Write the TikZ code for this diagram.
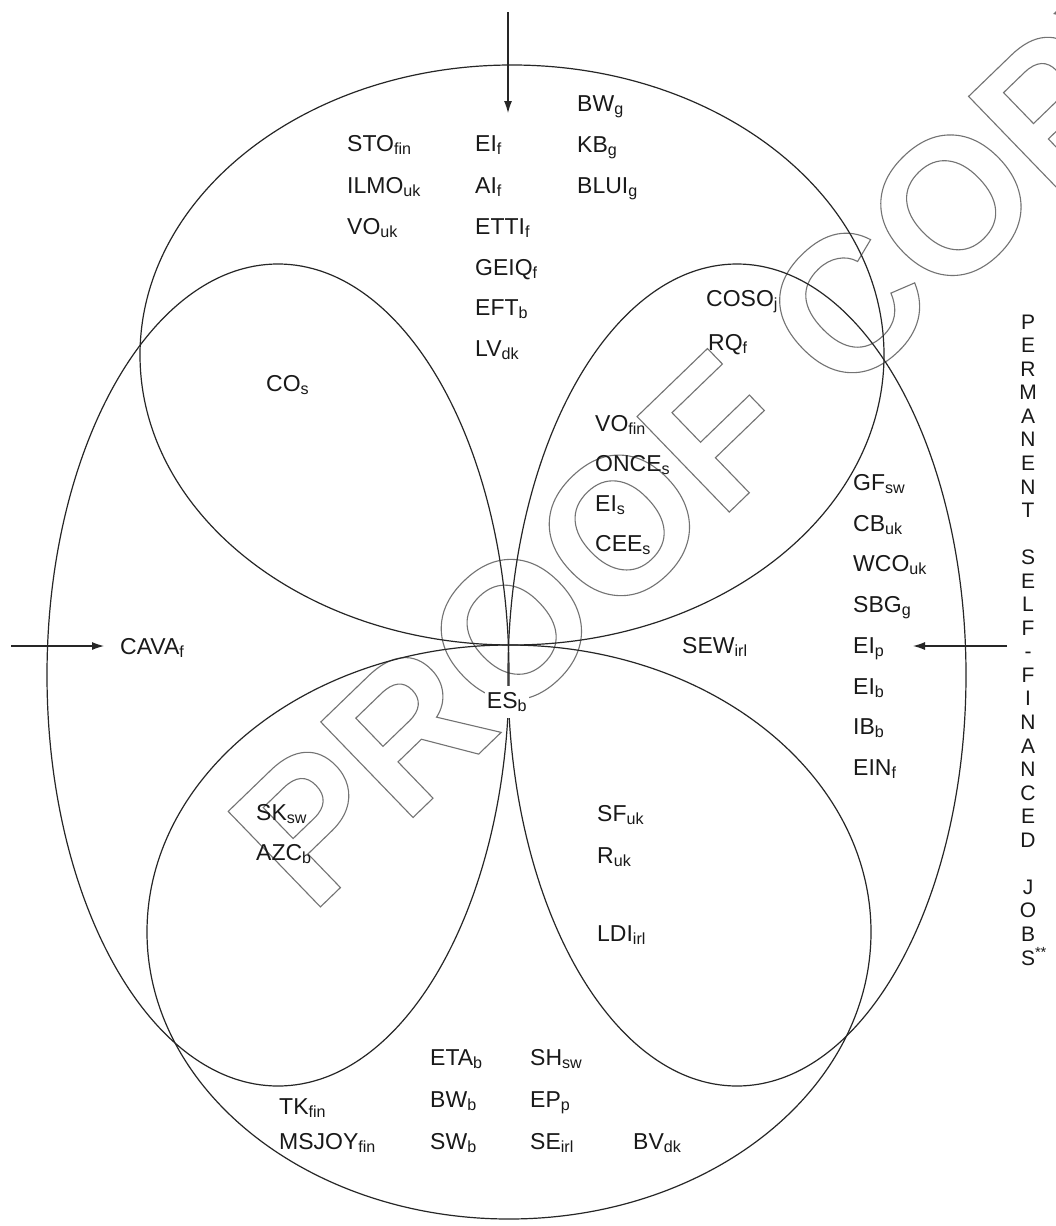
\documentclass[tikz,border=0pt]{standalone}
\usepackage{fontspec}
\setmainfont{Liberation Sans}
\usetikzlibrary{arrows.meta}
\newcommand\lbsub[2]{#1\textsubscript{#2}}
\newcommand\outlinetxt[1]{\special{pdf:literal direct 1 Tr 1.1 w}#1\special{pdf:literal direct 0 Tr}}
\tikzset{
  lab/.style={anchor=base west, inner sep=0pt, text=black!90, font=\fontsize{23}{27}\selectfont},
  ell/.style={line width=1.2pt, draw=black!85},
  arr/.style={line width=1.1pt, draw=black!85, -{Latex[length=12pt,width=8pt]}},
  wm/.style={anchor=base west, inner sep=0pt, text=black!55, font=\fontsize{193}{193}\selectfont\bfseries},
}
\begin{document}
\begin{tikzpicture}[x=1pt,y=-1pt]
\useasboundingbox (0,0) rectangle (1056,1226);
\fill[white] (0,0) rectangle (1056,1226);
% watermark
\node[wm, rotate=44] (wmark) at (311,916) {\outlinetxt{PROOF COPY}};
% ellipses
\draw[ell] (512,355) ellipse [x radius=372, y radius=290];
\draw[ell] (509,932) ellipse [x radius=362, y radius=287];
\draw[ell] (278,675) ellipse [x radius=231, y radius=411];
\draw[ell] (737,675) ellipse [x radius=229, y radius=411];
% arrows
\coordinate (ta0) at (508,12);  \coordinate (ta1) at (508,113);
\coordinate (la0) at (11,646);  \coordinate (la1) at (104,646);
\coordinate (ra0) at (1007,646); \coordinate (ra1) at (913,646);
\draw[arr] (ta0) -- (ta1);
\draw[arr] (la0) -- (la1);
\draw[arr] (ra0) -- (ra1);
% top block
\node[lab] (bwg) at (577,111) {\lbsub{BW}{g}};
\node[lab] (stofin) at (347,151) {\lbsub{STO}{fin}};
\node[lab] (eif) at (475,151) {\lbsub{EI}{f}};
\node[lab] (kbg) at (577,152) {\lbsub{KB}{g}};
\node[lab] (ilmouk) at (347,193) {\lbsub{ILMO}{uk}};
\node[lab] (aif) at (475,193) {\lbsub{AI}{f}};
\node[lab] (bluig) at (577,193) {\lbsub{BLUI}{g}};
\node[lab] (vouk) at (347,234) {\lbsub{VO}{uk}};
\node[lab] (ettif) at (475,234) {\lbsub{ETTI}{f}};
\node[lab] (geiqf) at (475,275) {\lbsub{GEIQ}{f}};
\node[lab] (eftb) at (475,315) {\lbsub{EFT}{b}};
\node[lab] (lvdk) at (475,356) {\lbsub{LV}{dk}};
% left / upper right
\node[lab] (cos) at (266,391) {\lbsub{CO}{s}};
\node[lab] (cosoj) at (706,306) {\lbsub{COSO}{j}};
\node[lab] (rqf) at (708,350) {\lbsub{RQ}{f}};
\node[lab] (vofin) at (595,431) {\lbsub{VO}{fin}};
\node[lab] (onces) at (595,471) {\lbsub{ONCE}{s}};
\node[lab] (eis) at (595,511) {\lbsub{EI}{s}};
\node[lab] (cees) at (595,551) {\lbsub{CEE}{s}};
% right column
\node[lab] (gfsw) at (853,490) {\lbsub{GF}{sw}};
\node[lab] (cbuk) at (853,531) {\lbsub{CB}{uk}};
\node[lab] (wcouk) at (853,571) {\lbsub{WCO}{uk}};
\node[lab] (sbgg) at (853,612) {\lbsub{SBG}{g}};
\node[lab] (eip) at (853,653) {\lbsub{EI}{p}};
\node[lab] (eib) at (853,694) {\lbsub{EI}{b}};
\node[lab] (ibb) at (853,734) {\lbsub{IB}{b}};
\node[lab] (einf) at (853,775) {\lbsub{EIN}{f}};
% middle row
\node[lab] (cavaf) at (120,654) {\lbsub{CAVA}{f}};
\node[lab] (sewirl) at (682,653) {\lbsub{SEW}{irl}};
% lower leaves
\node[lab] (sksw) at (256,820) {\lbsub{SK}{sw}};
\node[lab] (azcb) at (256,860) {\lbsub{AZC}{b}};
\node[lab] (sfuk) at (597,821) {\lbsub{SF}{uk}};
\node[lab] (ruk) at (597,863) {\lbsub{R}{uk}};
\node[lab] (ldiirl) at (597,941) {\lbsub{LDI}{irl}};
% bottom block
\node[lab] (etab) at (430,1065) {\lbsub{ETA}{b}};
\node[lab] (bwb) at (430,1107) {\lbsub{BW}{b}};
\node[lab] (swb) at (430,1149) {\lbsub{SW}{b}};
\node[lab] (shsw) at (530,1065) {\lbsub{SH}{sw}};
\node[lab] (epp) at (530,1107) {\lbsub{EP}{p}};
\node[lab] (seirl) at (530,1149) {\lbsub{SE}{irl}};
\node[lab] (bvdk) at (633,1149) {\lbsub{BV}{dk}};
\node[lab] (tkfin) at (279,1114) {\lbsub{TK}{fin}};
\node[lab] (msjoyfin) at (279,1149) {\lbsub{MSJOY}{fin}};
% centre label
\node[lab, anchor=base, fill=white, inner xsep=2pt, inner ysep=6pt] (esb) at (507,708) {\lbsub{ES}{b}};
% vertical text
\node[anchor=north, inner sep=0pt, align=center, text=black!90, font=\fontsize{21}{23.55}\selectfont] (vtext) at (1028,314.5)
  {P\\E\\R\\M\\A\\N\\E\\N\\T\\[23.55pt]S\\E\\L\\F\\{-}\\F\\I\\N\\A\\N\\C\\E\\D\\[23.55pt]J\\O\\B\\S\rlap{\textsuperscript{**}}};
\end{tikzpicture}
\end{document}
